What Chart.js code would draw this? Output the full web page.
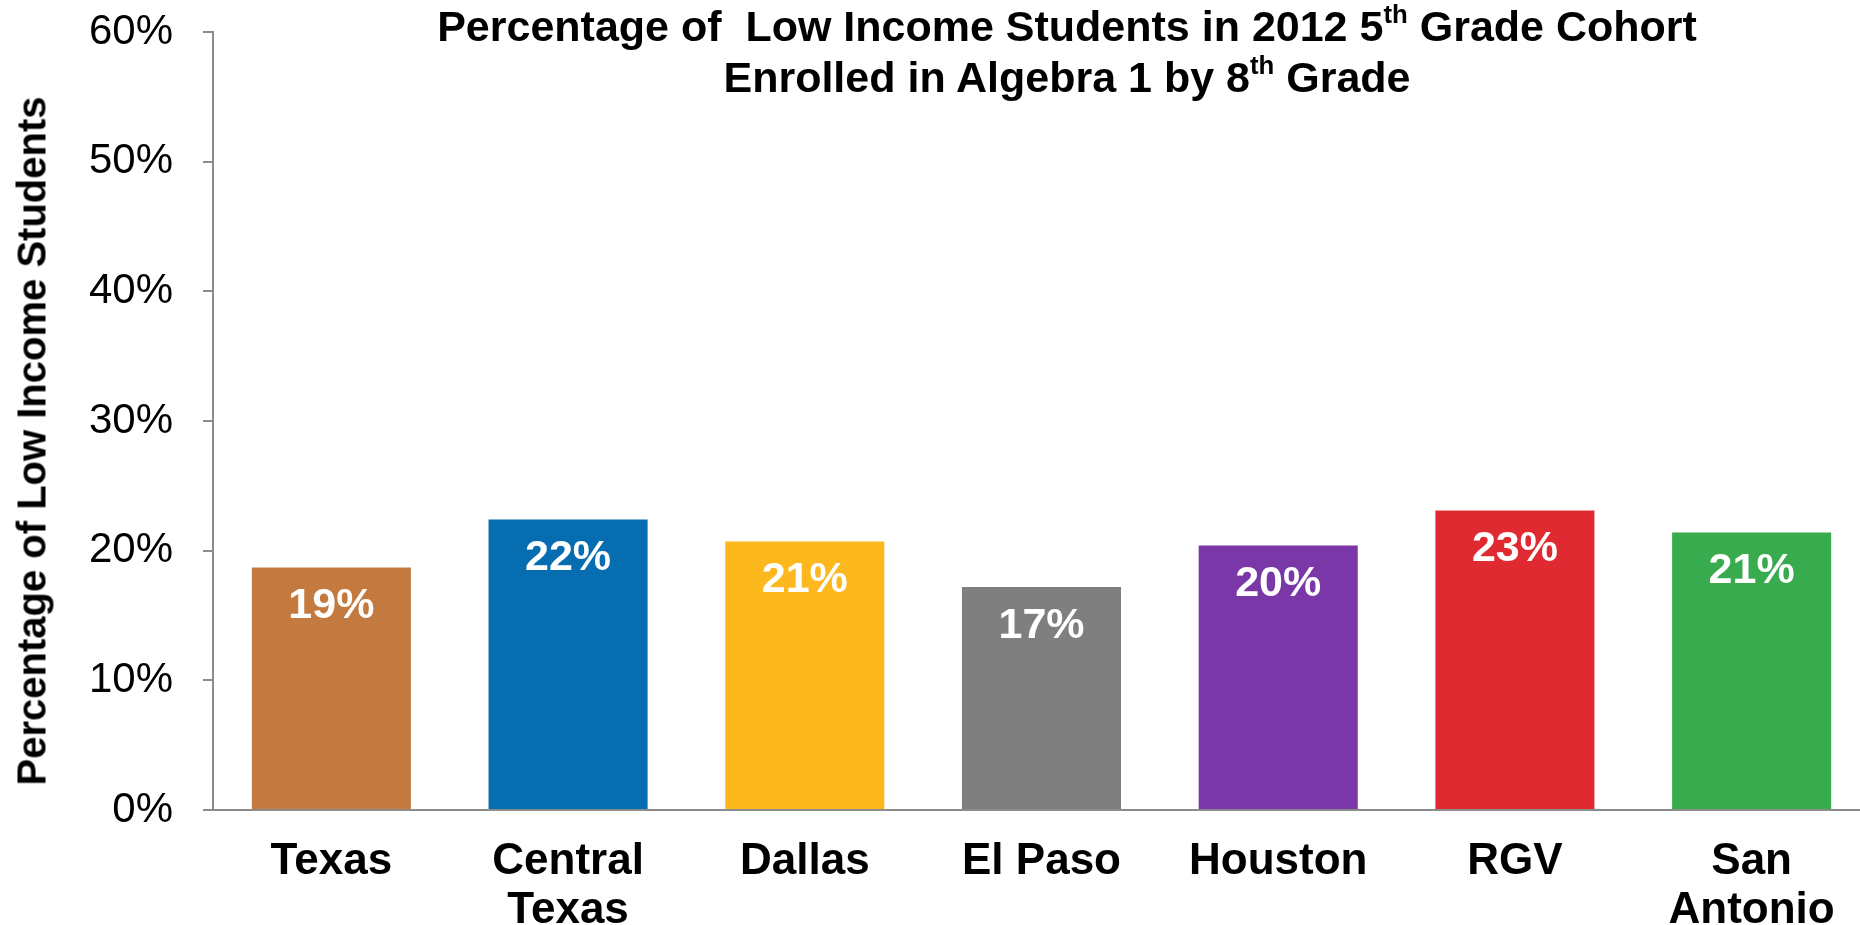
<!DOCTYPE html>
<html>
<head>
<meta charset="utf-8">
<script src="https://cdn.jsdelivr.net/npm/chart.js@4/dist/chart.umd.min.js"></script>
<style>
  html, body { margin: 0; padding: 0; background: #fff; overflow: hidden; }
  #wrap { position: relative; width: 1860px; height: 925px; overflow: hidden; }
  #grafica { position: absolute; left: 0; top: 0; }
  .titulo {
    position: absolute; left: 1067px; top: 1px; transform: translateX(-50%);
    font: bold 43px "Liberation Sans", Arial, sans-serif; color: #000;
    text-align: center; white-space: pre; line-height: 51px;
  }
  .titulo sup { font-size: 60%; line-height: 0; vertical-align: 0.7em; }
  .eje-y {
    position: absolute; left: 32px; top: 441px; transform: translate(-50%, -50%) rotate(-90deg);
    font: bold 40px "Liberation Sans", Arial, sans-serif; color: #000; white-space: nowrap;
  }
</style>
</head>
<body>
<div id="wrap">
  <canvas id="grafica" width="1870" height="925"></canvas>
  <div class="titulo">Percentage of  Low Income Students in 2012 5<sup>th</sup> Grade Cohort
Enrolled in Algebra 1 by 8<sup>th</sup> Grade</div>
  <div class="eje-y">Percentage of Low Income Students</div>
</div>
<script>
const regiones = ['Texas', ['Central', 'Texas'], 'Dallas', 'El Paso', 'Houston', 'RGV', ['San', 'Antonio']];
const porcentajes = [18.7, 22.4, 20.7, 17.2, 20.4, 23.1, 21.4];
const colores = ['#c47a3f', '#066eb0', '#fdb81e', '#7f7f7f', '#7a37a8', '#e02a32', '#38ab4f'];
const ticksY = [0, 10, 20, 30, 40, 50, 60];

const fuente = '"Liberation Sans", Arial, sans-serif';

// etiquetas blancas dentro de cada barra
const etiquetas = {
  id: 'etiquetas',
  afterDatasetsDraw(chart) {
    const { ctx } = chart;
    const meta = chart.getDatasetMeta(0);
    ctx.save();
    ctx.fillStyle = '#fff';
    ctx.font = `bold 43px ${fuente}`;
    ctx.textAlign = 'center';
    ctx.textBaseline = 'middle';
    meta.data.forEach((bar, i) => {
      ctx.fillText(Math.round(porcentajes[i]) + '%', bar.x, bar.y + 39);
    });
    ctx.restore();
  }
};

new Chart(document.getElementById('grafica'), {
  type: 'bar',
  data: {
    labels: regiones,
    datasets: [{
      data: porcentajes,
      backgroundColor: colores,
      borderWidth: 0,
      categoryPercentage: 1,
      barPercentage: 0.672
    }]
  },
  options: {
    responsive: false,
    animation: false,
    devicePixelRatio: 1,
    layout: { padding: { top: 32, left: 0, right: 0, bottom: 0 } },
    plugins: {
      legend: { display: false },
      tooltip: { enabled: false },
      title: { display: false }
    },
    scales: {
      x: {
        grid: { display: false },
        border: { display: true, color: '#8c8c8c', width: 2 },
        ticks: {
          color: '#000',
          font: { family: fuente, size: 44, weight: 'bold', lineHeight: 1.1 },
          padding: 20,
          maxRotation: 0,
          autoSkip: false
        },
        afterFit: s => { s.height = 115; s.paddingLeft = 0; s.paddingRight = 0; }
      },
      y: {
        min: 0,
        max: 60,
        afterBuildTicks: s => { s.ticks = ticksY.map(v => ({ value: v })); },
        grid: { drawOnChartArea: false, tickLength: 10, color: '#8c8c8c', lineWidth: 2 },
        border: { display: true, color: '#8c8c8c', width: 2 },
        ticks: {
          color: '#000',
          font: { family: fuente, size: 42 },
          padding: 30,
          callback: v => v + '%'
        },
        afterFit: s => { s.width = 213; s.paddingTop = 0; s.paddingBottom = 0; }
      }
    }
  },
  plugins: [etiquetas]
});
</script>
</body>
</html>
